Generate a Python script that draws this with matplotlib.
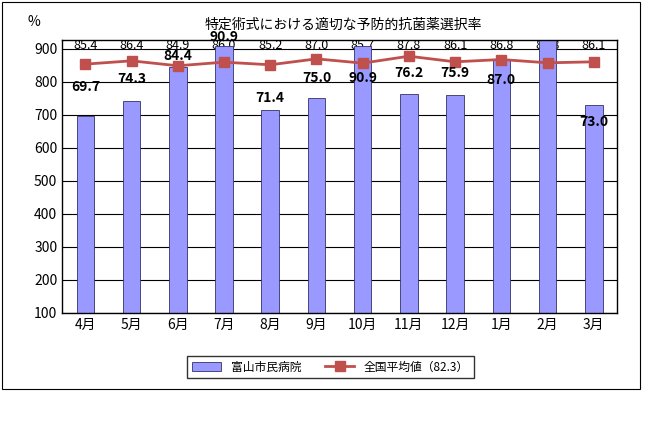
import matplotlib
matplotlib.use("Agg")
import matplotlib.pyplot as plt
from matplotlib.patches import Rectangle

plt.rcParams['font.family'] = ['Noto Sans CJK JP', 'DejaVu Sans']

months = ['4月','5月','6月','7月','8月','9月','10月','11月','12月','1月','2月','3月']
hospital = [69.7,74.3,84.4,90.9,71.4,75.0,90.9,76.2,75.9,87.0,96.0,73.0]
national = [85.4,86.4,84.9,86.0,85.2,87.0,85.7,87.8,86.1,86.8,85.8,86.1]
yticks = [100,200,300,400,500,600,700,800,900]
# label centre positions (axis units)
bar_label_y = [785,810,880,935,752,812,812,828,828,805,960,680]

fig = plt.figure(figsize=(6.48,4.45), dpi=100)
fig.patches.append(Rectangle((0.003,0.125),0.985,0.87, transform=fig.transFigure, fill=False, ec='black', lw=0.8))
ax = fig.add_axes([0.096,0.297,0.856,0.613])
x = range(len(months))
hv = [v*10 for v in hospital]
nv = [v*10 for v in national]
bars = ax.bar(x, [v-100 for v in hv], bottom=100, width=0.38, color='#9999ff', edgecolor='#333366', lw=0.6, label='富山市民病院', zorder=2)
line, = ax.plot(x, nv, color='#c0504d', marker='s', ms=7, lw=2, label='全国平均値（82.3）', zorder=3)
ax.set_ylim(100,927)
ax.set_xlim(-0.5,11.5)
ax.set_yticks(yticks)
ax.set_xticks(list(x))
ax.set_xticklabels(months)
ax.yaxis.grid(True, color='black', lw=0.8, zorder=0)
ax.tick_params(labelsize=10, length=0)
for i in x:
    ax.text(i, 910, f'{national[i]:.1f}', ha='center', va='center', fontsize=9, zorder=1)
    if hv[i] <= 927:
        ax.text(i, bar_label_y[i], f'{hospital[i]:.1f}', ha='center', va='center', fontsize=10, fontweight='bold', zorder=4, clip_on=False)
for s in ax.spines.values():
    s.set_linewidth(1)
ax.text(-0.04,1.05,'%', transform=ax.transAxes, fontsize=10, ha='right')
fig.text(0.53,0.935,'特定術式における適切な予防的抗菌薬選択率', ha='center', fontsize=10)
fig.legend([bars, line], ['富山市民病院','全国平均値（82.3）'], loc='center', bbox_to_anchor=(0.51,0.175), ncol=2, fontsize=8.5, frameon=True, fancybox=False, edgecolor='black', handlelength=2.5)
fig.savefig('out.png')
